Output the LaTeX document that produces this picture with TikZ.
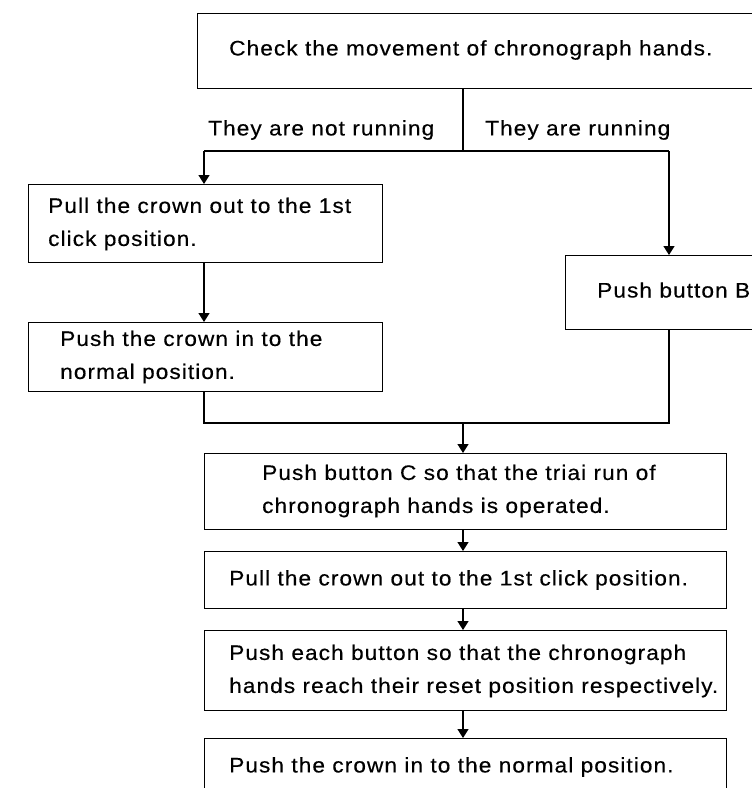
\documentclass[tikz,border=0pt]{standalone}
\usepackage{fontspec}
\setmainfont{Liberation Sans}[FakeStretch=1.08,LetterSpace=5,FakeBold=0.4]
\usetikzlibrary{arrows.meta}
\begin{document}
\begin{tikzpicture}[x=1pt,y=-1pt,
  box/.style={draw,line width=1.3pt,rectangle,anchor=north west,inner sep=0pt},
  txt/.style={inner sep=0pt,anchor=west,align=left,font=\fontsize{21}{33}\selectfont},
  con/.style={line width=1.3pt},
  arr/.style={con,-{Triangle[width=11pt,length=9pt]}}]
\useasboundingbox (0,0) rectangle (752,788);
\clip (0,0) rectangle (752,788);
% boxes
\node[box,minimum width=600pt,minimum height=75pt] (top) at (197,12.5) {};
\node[box,minimum width=354pt,minimum height=78pt] (b1) at (28,184) {};
\node[box,minimum width=354pt,minimum height=69pt] (b2) at (28,322) {};
\node[box,minimum width=250pt,minimum height=74pt] (bB) at (565,255) {};
\node[box,minimum width=522pt,minimum height=76pt] (bC) at (204,453) {};
\node[box,minimum width=522pt,minimum height=57pt] (bD) at (204,551) {};
\node[box,minimum width=522pt,minimum height=80pt] (bE) at (204,630) {};
\node[box,minimum width=522pt,minimum height=100pt] (bF) at (204,738) {};
% texts
\node[txt] (tTop) at (229,50) {Check the movement of chronograph hands.};
\node[txt] (lNo) at (208,130) {They are not running};
\node[txt] (lYes) at (485,130) {They are running};
\node[txt] (t1) at (48,224) {Pull the crown out to the 1st\\click position.};
\node[txt] (t2) at (60,357) {Push the crown in to the\\normal position.};
\node[txt] (tB) at (597,290) {Push button B};
\node[txt] (tC) at (262,491) {Push button C so that the triai run of\\chronograph hands is operated.};
\node[txt] (tD) at (229,580) {Pull the crown out to the 1st click position.};
\node[txt] (tE) at (229,671) {Push each button so that the chronograph\\hands reach their reset position respectively.};
\node[txt] (tF) at (229,767) {Push the crown in to the normal position.};
% connector coordinates
\coordinate (split) at (463,151);
\coordinate (bl) at (204,151);
\coordinate (br) at (669,151);
\coordinate (jl) at (204,423);
\coordinate (jr) at (669,423);
\coordinate (jm) at (463,423);
% connectors
\draw[con] (top.south -| split) -- (split);
\draw[con] (bl) -- (br);
\draw[arr] (bl) -- (bl |- b1.north);
\draw[arr] (br) -- (br |- bB.north);
\draw[arr] (b1.south -| bl) -- (b2.north -| bl);
\draw[con] (b2.south -| jl) -- (jl) -- (jr) -- (bB.south -| jr);
\draw[arr] (jm) -- (jm |- bC.north);
\draw[arr] (bC.south -| jm) -- (bD.north -| jm);
\draw[arr] (bD.south -| jm) -- (bE.north -| jm);
\draw[arr] (bE.south -| jm) -- (bF.north -| jm);
\end{tikzpicture}
\end{document}
